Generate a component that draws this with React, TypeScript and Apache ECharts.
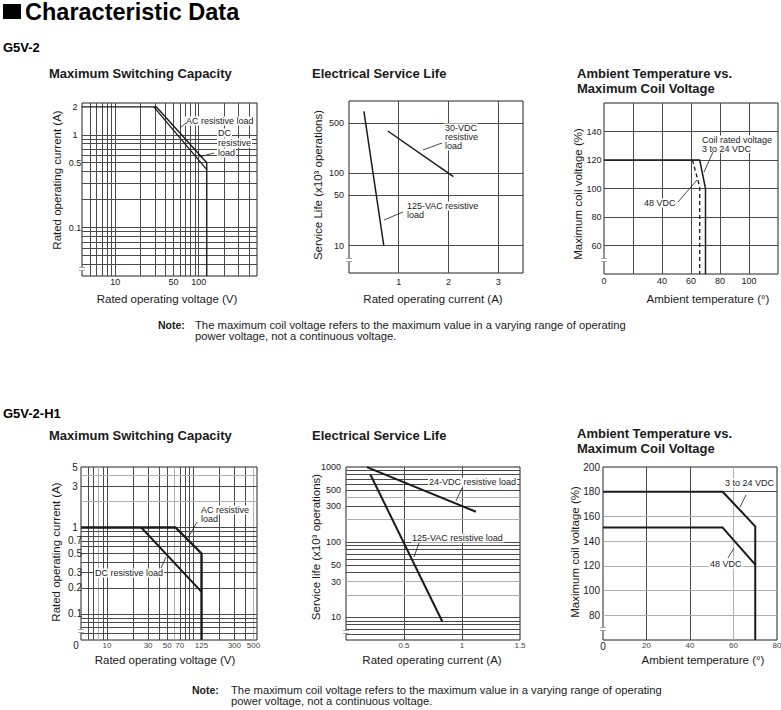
import React, { useEffect, useRef } from "react";
import * as echarts from "echarts";

const FONT = "'Liberation Sans', Arial, Helvetica, sans-serif";
const INK = "#1a1a1a";
const DARK = "#4a4a4a";
const LIGHT = "#b0b0b0";

// ---------- G5V-2 : Maximum Switching Capacity ----------
const msc1XLabels = [10, 50, 100];
const msc1YLabels = [0.1, 0.5, 1, 2];
const msc1XGrid = [5, 6, 7, 8, 9, 10, 20, 30, 40, 50, 60, 70, 80, 90, 100, 200, 300, 400];
const msc1YGrid = [0.04, 0.05, 0.06, 0.07, 0.08, 0.09, 0.1, 0.2, 0.3, 0.4, 0.5, 0.6, 0.7, 0.8, 0.9, 1];
const msc1AcLoad = [[4, 2], [31, 2], [125, 0.5], [125, 0.03]];
const msc1DcLoad = [[29, 2], [125, 0.42]];

// ---------- G5V-2 : Electrical Service Life ----------
const esl1XLabels = [1, 2, 3];
const esl1YLabels = [10, 50, 100, 500];
const esl1XGrid = [1, 2, 3];
const esl1YGrid = [10, 50, 100, 500];
const esl1Vac125 = [[0.3, 720], [0.7, 10]];
const esl1Vdc30 = [[0.78, 385], [2.1, 90]];

// ---------- G5V-2 : Ambient Temperature vs. Maximum Coil Voltage ----------
const atc1XLabels = [0, 40, 60, 80, 100];
const atc1YLabels = [60, 80, 100, 120, 140];
const atc1XGrid = [20, 40, 60, 80, 100];
const atc1YGrid = [60, 80, 100, 120, 140];
const atc1Vdc3to24 = [[0, 120], [66, 120], [70, 100], [70, 40]];
const atc1Vdc48 = [[61, 120], [66, 101], [66, 40]];

// ---------- G5V-2-H1 : Maximum Switching Capacity ----------
const msc2XLabels = [10, 30, 50, 70, 125, 300, 500];
const msc2YLabels = [0.1, 0.2, 0.3, 0.5, 0.7, 1, 3, 5];
const msc2XGrid = [6, 7, 8, 9, 10, 20, 30, 40, 50, 60, 70, 80, 90, 100, 200, 300, 400, 500];
const msc2XGridLight = [8, 60, 500];
const msc2YGrid = [0.06, 0.07, 0.08, 0.09, 0.1, 0.2, 0.3, 0.4, 0.5, 0.6, 0.7, 0.8, 0.9, 1, 2, 3, 4];
const msc2YGridLight = [2, 4];
const msc2AcLoad = [[5, 1], [62.5, 1], [125, 0.5], [125, 0.05]];
const msc2DcLoad = [[25, 1], [125, 0.18]];

// ---------- G5V-2-H1 : Electrical Service Life ----------
const esl2XLabels = [0.5, 1, 1.5];
const esl2YLabels = [10, 30, 50, 100, 300, 500, 1000];
const esl2XGrid = [0.5, 1];
const esl2YGrid = [6, 7, 8, 9, 10, 20, 30, 40, 50, 60, 70, 80, 90, 100, 200, 300, 400, 500, 600, 700, 800, 900];
const esl2YGridLight = [20, 30, 200, 400];
const esl2Vdc24 = [[0.18, 1000], [1.12, 255]];
const esl2Vac125 = [[0.21, 800], [0.83, 8.8]];

// ---------- G5V-2-H1 : Ambient Temperature vs. Maximum Coil Voltage ----------
const atc2XLabels = [0, 20, 40, 60, 80];
const atc2YLabels = [80, 100, 120, 140, 160, 180, 200];
const atc2XGrid = [20, 40, 60];
const atc2XGridLight = [60];
const atc2YGrid = [80, 100, 120, 140, 160, 180];
const atc2YGridLight = [80, 100, 120, 140, 160];
const atc2Vdc3to24 = [[0, 180], [55, 180], [70, 152], [70, 60]];
const atc2Vdc48 = [[0, 151], [55, 151], [70, 121]];

function gridSeries(idx: number, xs: number[], ys: number[], xLight: number[] = [], yLight: number[] = []) {
  return {
    type: "line",
    xAxisIndex: idx,
    yAxisIndex: idx,
    data: [],
    z: 1,
    silent: true,
    markLine: {
      silent: true,
      z: 1,
      symbol: ["none", "none"],
      label: { show: false },
      emphasis: { disabled: true },
      data: [
        ...xs.map((v) => ({ xAxis: v, lineStyle: { color: xLight.includes(v) ? LIGHT : DARK, width: 1, type: "solid" } })),
        ...ys.map((v) => ({ yAxis: v, lineStyle: { color: yLight.includes(v) ? LIGHT : DARK, width: 1, type: "solid" } })),
      ],
    },
  };
}

function dataSeries(idx: number, data: number[][], width: number, dashed = false) {
  return {
    type: "line",
    xAxisIndex: idx,
    yAxisIndex: idx,
    data,
    symbol: "none",
    z: 3,
    silent: true,
    lineStyle: { color: INK, width, type: dashed ? [4, 3] : "solid" },
  };
}

function axis(type: string, idx: number, min: number, max: number, labels: number[], lab: any) {
  const a: any = {
    type,
    gridIndex: idx,
    min,
    max,
    axisLine: { show: false },
    axisTick: { show: false },
    splitLine: { show: false },
    minorTick: { show: false },
    minorSplitLine: { show: false },
    axisLabel: {
      customValues: labels,
      color: INK,
      fontFamily: FONT,
      fontSize: 9,
      formatter: (v: number) => String(v),
      ...lab,
    },
  };
  if (type === "log") a.logBase = 10;
  return a;
}

function text(x: number, y: number, t: string, o: any = {}) {
  const { rotation, ...style } = o;
  const align = style.align || "left";
  const v = style.verticalAlign || "middle";
  return {
    type: "text",
    x,
    y,
    z: 20,
    silent: true,
    rotation: rotation || 0,
    style: {
      text: t,
      fill: INK,
      fontFamily: FONT,
      fontSize: 9,
      ...style,
      align,
      textAlign: align,
      verticalAlign: v,
      textVerticalAlign: v,
    },
  };
}

function seg(x1: number, y1: number, x2: number, y2: number, w = 0.8) {
  return { type: "line", z: 21, silent: true, shape: { x1, y1, x2, y2 }, style: { stroke: INK, lineWidth: w } };
}

function brk(x: number, y: number) {
  return [
    { type: "rect", z: 22, silent: true, shape: { x: x - 3, y: y - 1.5, width: 6, height: 3 }, style: { fill: "#fff" } },
    seg(x - 3, y - 1.5, x + 3, y - 1.5, 0.7),
    seg(x - 3, y + 1.5, x + 3, y + 1.5, 0.7),
  ];
}

const WB = { backgroundColor: "#fff", padding: [0, 1] };

export default function App() {
  const ref = useRef<HTMLDivElement>(null);
  useEffect(() => {
    if (!ref.current) return;
    const chart = echarts.init(ref.current, undefined, { renderer: "svg" });
    const gridBase = {
      show: true,
      borderColor: "#222",
      borderWidth: 1,
      backgroundColor: "transparent",
      containLabel: false,
      outerBoundsMode: "none",
    };
    const option: any = {
      animation: false,
      backgroundColor: "#fff",
      grid: [
        { ...gridBase, left: 82, top: 103, width: 175, height: 173 },
        { ...gridBase, left: 349, top: 101, width: 174, height: 172 },
        { ...gridBase, left: 604, top: 103, width: 174, height: 171 },
        { ...gridBase, left: 81, top: 467, width: 176, height: 173 },
        { ...gridBase, left: 346, top: 467, width: 174, height: 173 },
        { ...gridBase, left: 603, top: 467, width: 174, height: 173 },
      ],
      xAxis: [
        axis("log", 0, 4, 500, msc1XLabels, { margin: 1 }),
        axis("value", 1, 0, 3.5, esl1XLabels, { margin: 4 }),
        axis("value", 2, 0, 120, atc1XLabels, { margin: 2.5 }),
        axis("log", 3, 5, 550, msc2XLabels, { margin: 1, fontSize: 8, color: "#444" }),
        axis("value", 4, 0, 1.5, esl2XLabels, { margin: 1, fontSize: 8, color: "#444" }),
        axis("value", 5, 0, 80, atc2XLabels, {
          margin: 1,
          fontSize: 8,
          color: "#444",
          formatter: (v: number) => (v === 0 ? "{big|0}" : String(v)),
          rich: { big: { fontSize: 10, color: INK, fontFamily: FONT } },
        }),
      ],
      yAxis: [
        axis("log", 0, 0.03, 2.2, msc1YLabels, { margin: 7, align: "center" }),
        axis("log", 1, 4.2, 1000, esl1YLabels, { margin: 5 }),
        axis("value", 2, 40, 160, atc1YLabels, { margin: 2.5 }),
        axis("log", 3, 0.0498, 5.02, msc2YLabels, { margin: 6, align: "center", fontSize: 10 }),
        axis("log", 4, 5, 1005, esl2YLabels, { margin: 5 }),
        axis("value", 5, 60, 200, atc2YLabels, { margin: 3, fontSize: 10 }),
      ],
      series: [
        gridSeries(0, msc1XGrid, msc1YGrid),
        dataSeries(0, msc1AcLoad, 1.4),
        dataSeries(0, msc1DcLoad, 1.3),
        gridSeries(1, esl1XGrid, esl1YGrid),
        dataSeries(1, esl1Vac125, 1.5),
        dataSeries(1, esl1Vdc30, 1.5),
        gridSeries(2, atc1XGrid, atc1YGrid),
        dataSeries(2, atc1Vdc3to24, 1.5),
        dataSeries(2, atc1Vdc48, 1.3, true),
        gridSeries(3, msc2XGrid, msc2YGrid, msc2XGridLight, msc2YGridLight),
        dataSeries(3, msc2AcLoad, 2.4),
        dataSeries(3, msc2DcLoad, 2),
        gridSeries(4, esl2XGrid, esl2YGrid, [], esl2YGridLight),
        dataSeries(4, esl2Vdc24, 2),
        dataSeries(4, esl2Vac125, 2),
        gridSeries(5, atc2XGrid, atc2YGrid, atc2XGridLight, atc2YGridLight),
        dataSeries(5, atc2Vdc3to24, 2),
        dataSeries(5, atc2Vdc48, 2),
      ],
      graphic: [
        // page heading
        { type: "rect", z: 20, silent: true, shape: { x: 3, y: 4, width: 18, height: 15 }, style: { fill: "#000" } },
        text(25, 12, "Characteristic Data", { fontSize: 23.5, fontWeight: "bold", fill: "#000" }),
        text(3, 47, "G5V-2", { fontSize: 13, fontWeight: "bold", fill: "#000" }),
        text(3, 413, "G5V-2-H1", { fontSize: 13, fontWeight: "bold", fill: "#000" }),

        // chart titles (top row)
        text(49, 73, "Maximum Switching Capacity", { fontSize: 13, fontWeight: "bold" }),
        text(312, 73, "Electrical Service Life", { fontSize: 13, fontWeight: "bold" }),
        text(577, 73, "Ambient Temperature vs.", { fontSize: 13, fontWeight: "bold" }),
        text(577, 88, "Maximum Coil Voltage", { fontSize: 13, fontWeight: "bold" }),
        // chart titles (bottom row)
        text(49, 435, "Maximum Switching Capacity", { fontSize: 13, fontWeight: "bold" }),
        text(312, 435, "Electrical Service Life", { fontSize: 13, fontWeight: "bold" }),
        text(577, 433, "Ambient Temperature vs.", { fontSize: 13, fontWeight: "bold" }),
        text(577, 448, "Maximum Coil Voltage", { fontSize: 13, fontWeight: "bold" }),

        // axis names (top row)
        text(57, 180, "Rated operating current (A)", { fontSize: 11.5, align: "center", rotation: Math.PI / 2 }),
        text(167, 299, "Rated operating voltage (V)", { fontSize: 11.5, align: "center" }),
        text(318, 185, "Service Life (x10³ operations)", { fontSize: 11.5, align: "center", rotation: Math.PI / 2 }),
        text(433, 299, "Rated operating current (A)", { fontSize: 11.5, align: "center" }),
        text(578, 194, "Maximum coil voltage (%)", { fontSize: 11.5, align: "center", rotation: Math.PI / 2 }),
        text(708, 299, "Ambient temperature (°)", { fontSize: 11.5, align: "center" }),
        // axis names (bottom row)
        text(56, 552, "Rated operating current (A)", { fontSize: 11.5, align: "center", rotation: Math.PI / 2 }),
        text(165, 660, "Rated operating voltage (V)", { fontSize: 11.5, align: "center" }),
        text(316, 547, "Service life (x10³ operations)", { fontSize: 11.5, align: "center", rotation: Math.PI / 2 }),
        text(432, 660, "Rated operating current (A)", { fontSize: 11.5, align: "center" }),
        text(575, 552, "Maximum coil voltage (%)", { fontSize: 11.5, align: "center", rotation: Math.PI / 2 }),
        text(703, 660, "Ambient temperature (°)", { fontSize: 11.5, align: "center" }),

        // zero label at the break of the H1 switching-capacity axis
        text(76, 645, "0", { fontSize: 10, align: "center" }),

        // axis break marks
        ...brk(82, 269),
        ...brk(349, 260),
        ...brk(604, 260),
        ...brk(81, 631),
        ...brk(346, 632),
        ...brk(603, 629),

        // annotations: chart 1
        text(185, 121, "AC resistive load", WB),
        seg(180, 128, 186, 123),
        text(217, 133, "DC", WB),
        text(217, 143, "resistive", WB),
        text(217, 153, "load", WB),
        seg(199, 157, 214, 153),
        // chart 2
        text(444, 128, "30-VDC", WB),
        text(444, 137, "resistive", WB),
        text(444, 146, "load", WB),
        seg(423, 150, 442, 143),
        text(406, 206, "125-VAC resistive", WB),
        text(406, 215, "load", WB),
        seg(384, 220, 403, 212),
        // chart 3
        text(701, 140, "Coil rated voltage", WB),
        text(701, 148.5, "3 to 24 VDC", WB),
        seg(704, 172, 713, 152),
        text(643, 203, "48 VDC", WB),
        seg(678, 202, 697, 180),
        // chart 4
        text(200, 510, "AC resistive", WB),
        text(200, 518.5, "load", WB),
        seg(188, 538, 197, 522),
        text(94, 573, "DC resistive load", WB),
        seg(161, 568, 166, 557),
        // chart 5
        text(428, 482, "24-VDC resistive load", WB),
        seg(456, 501, 462, 488),
        text(411, 538, "125-VAC resistive load", WB),
        seg(414, 557, 419, 543),
        // chart 6
        text(724, 483, "3 to 24 VDC", WB),
        seg(740, 507, 746, 495),
        text(709, 564, "48 VDC", WB),
        seg(728, 558, 734, 548),

        // notes
        text(158, 325, "Note:", { fontSize: 10.5, fontWeight: "bold" }),
        text(195, 325, "The maximum coil voltage refers to the maximum value in a varying range of operating", { fontSize: 11.25 }),
        text(195, 336, "power voltage, not a continuous voltage.", { fontSize: 11.25 }),
        text(192, 690, "Note:", { fontSize: 10.5, fontWeight: "bold" }),
        text(231, 690, "The maximum coil voltage refers to the maximum value in a varying range of operating", { fontSize: 11.25 }),
        text(231, 701, "power voltage, not a continuous voltage.", { fontSize: 11.25 }),
      ],
    };
    chart.setOption(option);
    return () => chart.dispose();
  }, []);
  return <div ref={ref} style={{ position: "absolute", left: 0, top: 0, width: 781, height: 710 }} />;
}
